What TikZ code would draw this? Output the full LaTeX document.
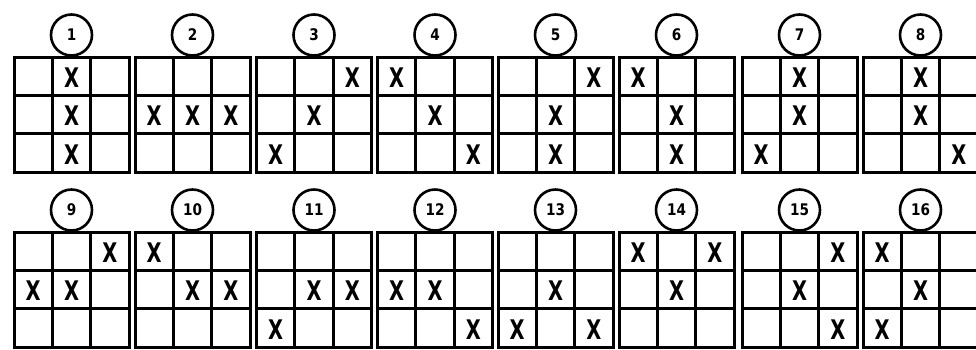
\documentclass[tikz,border=0pt]{standalone}
\usepackage{fontspec}
\newfontfamily\markfont{DejaVu Sans}
\tikzset{
  gridline/.style={line width=3pt, line cap=rect},
  xmk/.style={inner sep=0pt, font=\markfont\bfseries\fontsize{27}{27}\selectfont},
  numc/.style={circle, draw, line width=2.6pt, minimum size=41pt, inner sep=0pt, font=\markfont\bfseries\fontsize{16}{16}\selectfont},
}
\newcommand\tttgrid[4]{%
  \draw[gridline] (#1,#2) rectangle ++(115,115);
  \draw[gridline] ({#1+38.33},#2) -- ++(0,115);
  \draw[gridline] ({#1+76.67},#2) -- ++(0,115);
  \draw[gridline] (#1,{#2+38.33}) -- ++(115,0);
  \draw[gridline] (#1,{#2+76.67}) -- ++(115,0);
  \node[numc] (n#3) at ({#1+57.5},{#2-22}) {\scalebox{0.85}[1]{#3}};
  \foreach \r/\c in {#4}
    \node[xmk] (x#3-\r-\c) at ({#1+38.33*(\c-0.5)},{#2+38.33*(\r-0.5)+1.5}) {\scalebox{0.72}[1]{X}};
}
\begin{document}
\begin{tikzpicture}[x=1pt,y=-1pt]
\useasboundingbox (0,0) rectangle (976,349);
\clip (0,0) rectangle (976,349);
\fill[white] (0,0) rectangle (976,349);
% row 1
\tttgrid{14}{57}{1}{1/2,2/2,3/2}
\tttgrid{135}{57}{2}{2/1,2/2,2/3}
\tttgrid{256.5}{57}{3}{1/3,2/2,3/1}
\tttgrid{377.5}{57}{4}{1/1,2/2,3/3}
\tttgrid{498}{57}{5}{1/3,2/2,3/2}
\tttgrid{619}{57}{6}{1/1,2/2,3/2}
\tttgrid{742}{57}{7}{1/2,2/2,3/1}
\tttgrid{863}{57}{8}{1/2,2/2,3/3}
% row 2
\tttgrid{14}{232}{9}{1/3,2/1,2/2}
\tttgrid{135}{232}{10}{1/1,2/2,2/3}
\tttgrid{256.5}{232}{11}{2/2,2/3,3/1}
\tttgrid{377.5}{232}{12}{2/1,2/2,3/3}
\tttgrid{498}{232}{13}{2/2,3/1,3/3}
\tttgrid{619}{232}{14}{1/1,1/3,2/2}
\tttgrid{742}{232}{15}{1/3,2/2,3/3}
\tttgrid{863}{232}{16}{1/1,2/2,3/1}
\end{tikzpicture}
\end{document}
